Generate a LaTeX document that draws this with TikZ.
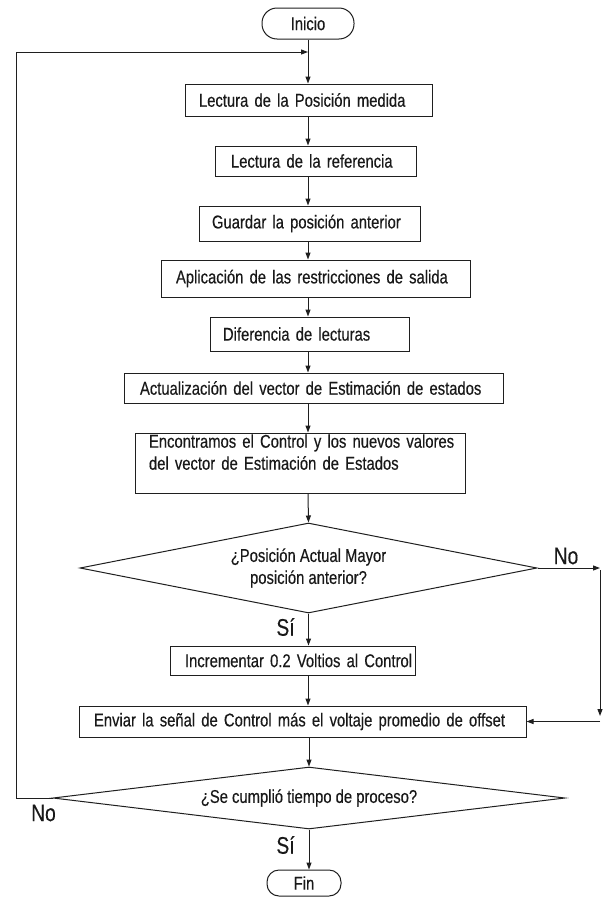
\documentclass[tikz,border=0pt]{standalone}
\usepackage{fontspec}
\setmainfont{Liberation Sans}[FakeStretch=0.8,FakeBold=0.3]
\usetikzlibrary{shapes.geometric,arrows.meta}
\tikzset{
  ink/.style={draw=black!88, line width=1pt},
  txt/.style={font=\fontsize{18.5}{22}\selectfont, text=black!90},
  stepbox/.style={ink, rectangle, txt, align=left, inner xsep=0pt, inner ysep=0pt, fill=white},
  lpad/.style={execute at begin node={\hyphenpenalty=10000\relax\leftskip=#1\relax}},
  terminal/.style={ink, rectangle, txt, inner sep=0pt},
  decision/.style={ink, diamond, txt, align=center, inner sep=0pt},
  arr/.style={ink, -{Triangle[length=7pt,width=5pt]}},
  lab/.style={font=\fontsize{24}{26}\selectfont, text=black!90}
}
\begin{document}
\begin{tikzpicture}[x=1pt,y=-1pt]
  \fill[white] (0,0) rectangle (606,897);
  \useasboundingbox (0,0) rectangle (606,897);

  % main axis of the chart
  \coordinate (ax) at (308,0);

  % start / end terminals
  \node[terminal, rounded corners=15pt, minimum width=92pt, minimum height=31pt] (ini) at (308,23.5) {Inicio};
  \node[terminal, rounded corners=12pt, minimum width=74pt, minimum height=26pt] (fin) at (304,883) {Fin};

  % process steps (box width, height, left text indent)
  \node[stepbox, minimum height=32pt, text width=247pt, lpad=14pt] (b1) at (308.5,100) {\mbox{Lectura de la Posición medida}};
  \node[stepbox, minimum height=30pt, text width=201pt, lpad=16pt] (b2) at (315.5,161) {\mbox{Lectura de la referencia}};
  \node[stepbox, minimum height=35pt, text width=221pt, lpad=13pt] (b3) at (309.5,223.5) {\mbox{Guardar la posición anterior}};
  \node[stepbox, minimum height=37pt, text width=309pt, lpad=15pt] (b4) at (315.5,278.5) {\mbox{Aplicación de las restricciones de salida}};
  \node[stepbox, minimum height=34pt, text width=199pt, lpad=13pt] (b5) at (309.5,334) {\mbox{Diferencia de lecturas}};
  \node[stepbox, minimum height=30pt, text width=379pt, lpad=16pt] (b6) at (313.5,388) {\mbox{Actualización del vector de Estimación de estados}};
  \node[stepbox, minimum height=60pt, text width=330pt, lpad=14pt] (b7) at (300,463) {\mbox{Encontramos el Control y los nuevos valores}\\\mbox{del vector de Estimación de Estados}\\\mbox{}};
  \node[stepbox, minimum height=29pt, text width=245pt, lpad=15pt] (b8) at (292.5,660.5) {\mbox{Incrementar 0.2 Voltios al Control}};
  \node[stepbox, minimum height=31pt, text width=447pt, lpad=15pt] (b9) at (302.5,721.5) {\mbox{Enviar la señal de Control más el voltaje promedio de offset}};

  % decisions
  \node[decision, minimum width=457pt, minimum height=90pt, aspect=5.08] (d1) at (308.5,568) {¿Posición Actual Mayor\\posición anterior?};
  \node[decision, minimum width=512pt, minimum height=62pt, aspect=8.26] (d2) at (309,798) {¿Se cumplió tiempo de proceso?};

  % branch labels
  \node[lab] (no1) at (566,556) {No};
  \node[lab] (si1) at (285.5,627) {Sí};
  \node[lab] (no2) at (43.5,813) {No};
  \node[lab] (si2) at (285.5,845) {Sí};

  % routing points
  \coordinate (jn) at (308,52);
  \coordinate (lp) at (16,52);
  \coordinate (ne) at (600,568);
  \coordinate (ns) at (600,570);
  \coordinate (nd) at (600,716);
  \coordinate (nw) at (600,721.5);

  % main flow
  \draw[ink] (ini.south) -- (jn);
  \draw[arr] (jn) -- (b1.north -| ax);
  \draw[arr] (b1.south -| ax) -- (b2.north -| ax);
  \draw[arr] (b2.south -| ax) -- (b3.north -| ax);
  \draw[arr] (b3.south -| ax) -- (b4.north -| ax);
  \draw[arr] (b4.south -| ax) -- (b5.north -| ax);
  \draw[arr] (b5.south -| ax) -- (b6.north -| ax);
  \draw[arr] (b6.south -| ax) -- (b7.north -| ax);
  \draw[arr] (b7.south -| ax) -- (d1.north);
  \draw[arr] (d1.south) -- (b8.north -| d1.south);
  \draw[arr] (b8.south -| ax) -- (b9.north -| ax);
  \draw[arr] (b9.south -| d2.north) -- (d2.north);
  \draw[arr] (d2.south) -- (d2.south |- fin.north);

  % "No" branch of the first decision
  \draw[arr] (d1.east) -- (ne);
  \draw[arr] (ns) -- (nd);
  \draw[arr] (nw) -- (b9.east);

  % loop back to the start
  \draw[arr] (d2.west) -| (lp) -- (jn);
\end{tikzpicture}
\end{document}
